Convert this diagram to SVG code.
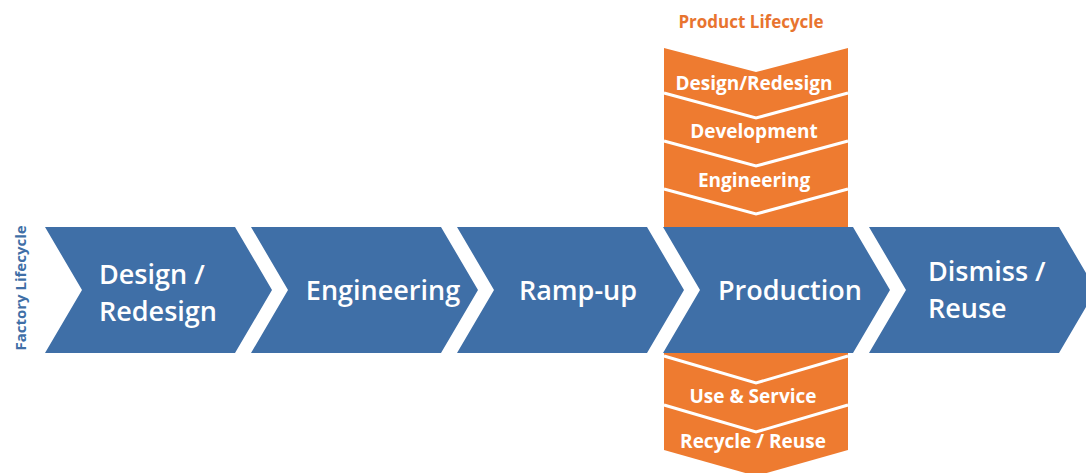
<svg xmlns="http://www.w3.org/2000/svg" width="1086" height="473" viewBox="0 0 1086 473">
<style>
.blue{fill:#3F6FA7}
.orange{fill:#EE7B30}
.sep{fill:none;stroke:#FFFFFF;stroke-width:3}
.bt{font-family:"Open Sans","DejaVu Sans",sans-serif;font-size:27px;font-weight:600;fill:#FFFFFF}
.ot{font-family:"Open Sans","DejaVu Sans",sans-serif;font-size:19px;font-weight:bold;fill:#FFFFFF;text-anchor:middle}
.hdr{font-family:"Open Sans","DejaVu Sans",sans-serif;font-weight:bold}
</style>
<rect width="1086" height="473" fill="#FFFFFF"/>
<g id="product-lifecycle">
  <text class="hdr" x="751" y="28" font-size="17" text-anchor="middle" fill="#E8742F">Product Lifecycle</text>
  <path class="orange" d="M664,48 L756,72 L848,48 L848,228 L664,228 Z"/>
  <path class="sep" d="M664,93 L756,118 L848,93"/>
  <path class="sep" d="M664,141 L756,166 L848,141"/>
  <path class="sep" d="M664,189 L756,214 L848,189"/>
  <path class="orange" d="M664,352 L848,352 L848,450 L756,476 L664,450 Z"/>
  <path class="sep" d="M664,356 L756,383 L848,356"/>
  <path class="sep" d="M664,405 L756,432 L848,405"/>
</g>
<g id="p-design"><text class="ot" x="754" y="90">Design/Redesign</text></g>
<g id="p-development"><text class="ot" x="754" y="138">Development</text></g>
<g id="p-engineering"><text class="ot" x="754" y="187">Engineering</text></g>
<g id="p-use"><text class="ot" x="753" y="403">Use &amp; Service</text></g>
<g id="p-recycle"><text class="ot" x="753" y="448">Recycle / Reuse</text></g>
<g id="factory-label">
  <text class="hdr" font-size="15" transform="translate(26,288) rotate(-90)" text-anchor="middle" fill="#3F6FA7">Factory Lifecycle</text>
</g>
<g id="f-design">
  <path class="blue" d="M45,227 L235,227 L272,290 L235,353 L45,353 L82,290 Z"/>
  <text class="bt" x="99" y="284">Design /</text>
  <text class="bt" x="99" y="321">Redesign</text>
</g>
<g id="f-engineering">
  <path class="blue" d="M251,227 L441,227 L478,290 L441,353 L251,353 L288,290 Z"/>
  <text class="bt" x="383" y="300" text-anchor="middle">Engineering</text>
</g>
<g id="f-rampup">
  <path class="blue" d="M457,227 L647,227 L684,290 L647,353 L457,353 L494,290 Z"/>
  <text class="bt" x="578" y="300" text-anchor="middle">Ramp-up</text>
</g>
<g id="f-production">
  <path class="blue" d="M663,227 L853,227 L890,290 L853,353 L663,353 L700,290 Z"/>
  <text class="bt" x="790" y="300" text-anchor="middle">Production</text>
</g>
<g id="f-dismiss">
  <path class="blue" d="M869,227 L1059,227 L1096,290 L1059,353 L869,353 L906,290 Z"/>
  <text class="bt" x="928" y="281">Dismiss /</text>
  <text class="bt" x="928" y="318">Reuse</text>
</g>
<g id="connectors"/>
</svg>
